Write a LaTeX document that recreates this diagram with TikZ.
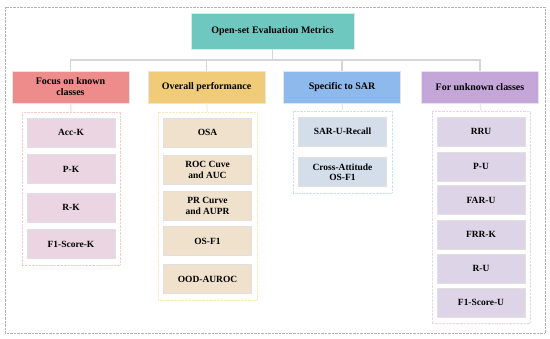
\documentclass[tikz,border=0pt]{standalone}
\usepackage{fontspec}
\setmainfont{Liberation Serif}
\usetikzlibrary{fit}

\definecolor{headteal}{HTML}{6FC8C0}
\definecolor{knownred}{HTML}{EE8B8B}
\definecolor{overallyel}{HTML}{F0CB78}
\definecolor{sarblue}{HTML}{8DB9EC}
\definecolor{unkpurple}{HTML}{C4A6D9}
\definecolor{knownitem}{HTML}{EBD5E3}
\definecolor{overallitem}{HTML}{EFE1CB}
\definecolor{saritem}{HTML}{D3DEEA}
\definecolor{unkitem}{HTML}{DED4E7}

\begin{document}
\begin{tikzpicture}[x=1bp, y=-1bp,
        cat/.style={rectangle, draw=black!10, minimum width=117bp,
          minimum height=32bp, align=center, inner sep=1bp,
        font=\fontsize{10}{11}\selectfont\bfseries},
        metric/.style={rectangle, draw=black!12, minimum width=88bp,
          minimum height=29bp, align=center, inner sep=1bp,
        font=\fontsize{9.5}{10.5}\selectfont\bfseries},
        group/.style={draw, densely dotted, inner xsep=5bp, inner ysep=6bp},
        link/.style={draw=black!16, line width=1.2bp},
      ]
      \useasboundingbox (0,0) rectangle (550,338);
      \draw[black!30, densely dotted] (5,7) rectangle (545,333);

      \node[cat, fill=headteal, minimum width=163bp, minimum height=36bp]
        (title) at (272.5, 31) {Open-set Evaluation Metrics};
      \coordinate (bus) at (0, 60);

      \node[cat, fill=knownred] (known) at (70.5, 87) {Focus on known\\classes};
      \node[cat, fill=overallyel] (overall) at (206.5, 87) {Overall performance};
      \node[cat, fill=sarblue] (sar) at (342, 87) {Specific to SAR};
      \node[cat, fill=unkpurple] (unknown) at (480, 87) {For unknown classes};

      \node[metric, fill=knownitem] (acck) at (71, 132.5) {Acc-K};
      \node[metric, fill=knownitem] (pk) at (71, 169) {P-K};
      \node[metric, fill=knownitem] (rk) at (71, 207.5) {R-K};
      \node[metric, fill=knownitem] (fonek) at (71, 244) {F1-Score-K};

      \node[metric, fill=overallitem] (osa) at (207.5, 132.5) {OSA};
      \node[metric, fill=overallitem] (roc) at (207.5, 170) {ROC Cuve\\and AUC};
      \node[metric, fill=overallitem] (pr) at (207.5, 206) {PR Curve\\and AUPR};
      \node[metric, fill=overallitem] (osfone) at (207.5, 241) {OS-F1};
      \node[metric, fill=overallitem] (ood) at (207.5, 279) {OOD-AUROC};

      \node[metric, fill=saritem] (sarrecall) at (342.5, 131.5) {SAR-U-Recall};
      \node[metric, fill=saritem] (cross) at (342.5, 172) {Cross-Attitude\\OS-F1};

      \node[metric, fill=unkitem] (rru) at (481, 131.5) {RRU};
      \node[metric, fill=unkitem] (pu) at (481, 166.5) {P-U};
      \node[metric, fill=unkitem] (faru) at (481, 200) {FAR-U};
      \node[metric, fill=unkitem] (frrk) at (481, 234.5) {FRR-K};
      \node[metric, fill=unkitem] (ru) at (481, 268.5) {R-U};
      \node[metric, fill=unkitem] (foneu) at (481, 302.5) {F1-Score-U};

      \node[group, draw=knownred!45, fit=(acck) (fonek)] (grpknown) {};
      \node[group, draw=overallyel!45, fit=(osa) (ood)] (grpoverall) {};
      \node[group, draw=sarblue!45, fit=(sarrecall) (cross)] (grpsar) {};
      \node[group, draw=unkpurple!45, fit=(rru) (foneu)] (grpunknown) {};

      \foreach \c in {known, overall, sar, unknown} {
        \draw[link] (\c.north) -- (\c.north |- bus) -| (title.south);
      }
      \draw[link, draw=knownred!30] (known.south) -- (grpknown.north);
      \draw[link, draw=overallyel!30] (overall.south) -- (grpoverall.north);
      \draw[link, draw=sarblue!30] (sar.south) -- (grpsar.north);
      \draw[link, draw=unkpurple!30] (unknown.south) -- (grpunknown.north);

    \end{tikzpicture}
\end{document}
